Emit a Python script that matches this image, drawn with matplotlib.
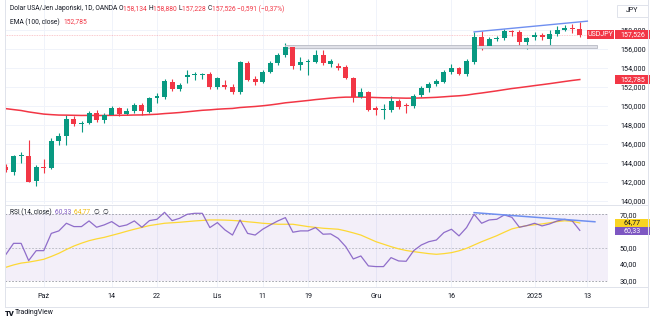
import matplotlib
matplotlib.use('Agg')
import matplotlib.pyplot as plt
import matplotlib.transforms as mtransforms
from matplotlib.patches import Rectangle
from matplotlib.lines import Line2D
import numpy as np
import pandas as pd

plt.rcParams['font.family'] = ['Roboto', 'DejaVu Sans']

W, H = 653, 322
GREEN = '#089981'
RED = '#f23645'
PURPLE = '#7e57c2'
YELLOW = '#fdd835'
TEXT = '#131722'
GRID = '#f0f3fa'
FRAME = '#e0e3eb'
BLUE = '#6f8ff0'

# trading days (OANDA daily, no bar on Christmas / New Year)
holidays = ['2024-12-25', '2025-01-01']
dates = pd.bdate_range('2024-09-24', '2025-01-13')
dates = dates[~dates.isin(pd.to_datetime(holidays))]

opens = [143.55, 143.10, 144.70, 144.75, 142.15, 143.60, 143.50, 146.30, 146.80, 148.65,
         148.15, 148.20, 149.25, 148.50, 149.05, 149.75, 149.20, 149.50, 150.10, 149.40,
         150.80, 150.95, 152.55, 151.80, 153.10, 153.30, 153.30, 153.35, 152.00, 152.25,
         152.00, 151.50, 154.55, 152.85, 152.55, 153.60, 154.55, 155.40, 156.25, 154.30,
         154.60, 154.60, 155.40, 154.45, 154.20, 154.10, 152.95, 150.90, 151.45, 149.75,
         149.55, 149.60, 150.55, 150.05, 149.95, 151.15, 151.90, 152.35, 152.55, 153.60,
         154.00, 153.35, 154.60, 157.30, 156.30, 157.05, 157.15, 157.90, 157.75, 156.75,
         157.25, 157.50, 157.05, 157.55, 158.00, 158.25, 158.134]
highs = [143.90, 144.85, 145.20, 146.40, 143.75, 144.40, 146.60, 147.20, 149.00, 148.95,
         148.40, 149.50, 149.55, 149.30, 149.95, 149.90, 149.80, 150.30, 150.30, 150.90,
         151.40, 152.85, 152.80, 152.40, 153.80, 153.60, 153.50, 153.60, 153.10, 152.70,
         152.30, 154.70, 154.70, 153.20, 153.80, 154.75, 155.60, 156.60, 156.40, 155.20,
         155.00, 155.85, 155.90, 154.95, 154.50, 154.35, 153.10, 151.90, 151.60, 149.95,
         150.20, 151.05, 150.70, 150.30, 151.30, 152.10, 152.50, 152.85, 153.80, 154.40,
         154.15, 154.90, 157.80, 157.85, 157.25, 157.35, 158.10, 158.05, 158.00, 157.30,
         157.75, 157.65, 158.00, 158.40, 158.55, 158.60, 158.880]
lows = [143.00, 142.70, 144.00, 141.95, 141.60, 142.95, 143.40, 145.90, 145.85, 147.90,
        147.30, 148.10, 148.30, 148.20, 149.00, 148.90, 149.00, 149.30, 149.10, 149.30,
        150.30, 150.70, 151.60, 151.60, 152.45, 152.75, 152.80, 151.80, 151.80, 151.80,
        151.30, 151.30, 152.60, 152.20, 152.40, 153.50, 154.30, 155.20, 153.85, 153.80,
        153.25, 154.50, 154.30, 154.10, 153.80, 152.80, 150.45, 150.80, 149.45, 149.05,
        148.65, 149.40, 149.70, 149.30, 149.80, 151.00, 151.50, 152.10, 152.40, 153.40,
        153.30, 153.20, 154.40, 155.90, 156.10, 156.80, 157.00, 157.40, 156.25, 155.95,
        156.95, 156.90, 156.20, 157.40, 157.90, 157.70, 157.228]
closes = [143.25, 144.70, 144.80, 142.05, 143.55, 143.50, 146.30, 146.80, 148.65, 148.15,
          148.25, 149.30, 148.50, 149.10, 149.75, 149.20, 149.50, 150.10, 149.50, 150.80,
          151.00, 152.65, 151.80, 152.25, 153.25, 153.35, 153.40, 151.95, 152.95, 152.00,
          151.50, 154.60, 152.75, 152.55, 153.60, 154.55, 155.40, 156.25, 154.25, 154.65,
          154.65, 155.40, 154.55, 154.70, 154.00, 152.95, 150.90, 151.45, 149.60, 149.60,
          149.65, 150.55, 149.90, 150.00, 151.10, 151.90, 152.35, 152.60, 153.60, 154.00,
          153.40, 154.70, 157.30, 156.30, 157.05, 157.15, 157.90, 157.80, 156.75, 157.15,
          157.50, 157.25, 157.55, 158.05, 158.25, 158.117, 157.526]
ema_start = 149.72  # EMA(100) value at the first visible bar

rsi = [45.9, 52.5, 52.5, 42.1, 48.1, 48.1, 58.5, 60.0, 64.6, 62.6,
       62.6, 66.0, 62.2, 63.6, 65.6, 62.6, 63.6, 66.0, 62.2, 66.2,
       67.0, 71.2, 66.2, 67.6, 70.0, 70.6, 70.6, 62.0, 65.0, 60.6,
       57.5, 66.6, 58.5, 57.5, 61.0, 63.6, 66.0, 68.0, 59.2, 60.0,
       60.0, 62.0, 58.0, 58.2, 55.5, 50.5, 43.1, 44.9, 38.9, 38.5,
       38.5, 43.9, 41.9, 41.7, 48.1, 51.5, 53.5, 54.5, 59.0, 61.0,
       57.0, 62.0, 70.0, 64.6, 66.6, 67.0, 69.6, 68.2, 62.2, 63.2,
       64.6, 63.0, 64.2, 66.0, 67.0, 66.0, 60.33]
rsi_ma = [38.1, 39.5, 40.6, 41.2, 42.0, 42.9, 44.6, 46.5, 48.8, 50.9,
          52.6, 54.1, 55.2, 56.1, 57.3, 58.5, 59.8, 61.0, 62.1, 63.2,
          63.9, 64.6, 64.9, 65.2, 65.6, 66.0, 66.3, 66.6, 66.6, 66.5,
          66.3, 66.0, 65.5, 65.1, 64.6, 64.3, 64.0, 64.0, 64.0, 63.3,
          62.6, 62.1, 61.6, 61.3, 61.0, 60.0, 58.8, 57.5, 55.5, 53.5,
          52.0, 50.5, 49.2, 48.2, 47.5, 46.9, 46.3, 45.9, 46.3, 46.9,
          48.0, 49.5, 51.5, 53.5, 55.3, 57.1, 59.2, 61.2, 62.3, 63.2,
          63.7, 64.2, 64.9, 65.6, 66.1, 65.8, 64.77]

tick_dates = ['2024-10-01', '2024-10-14', '2024-10-22', '2024-11-01', '2024-11-11',
              '2024-11-19', '2024-12-02', '2024-12-16', '2025-01-02', '2025-01-13']
tick_labels = ['Paź', '14', '22', 'Lis', '11', '19', 'Gru', '16', '2025', '13']
price_ticks = [140, 142, 144, 146, 148, 150, 152, 154, 156, 158]
rsi_ticks = [30, 40, 50, 70]

# drawings
trend_price = ([62, 77], [157.80, 158.93])
trend_rsi = ([62, 78], [71.0, 65.5])
level_price = 156.26
level_range = (37, 78.3)

ema = [ema_start]
for v in closes[1:]:
    ema.append(ema[-1] + (v - ema[-1]) * 2 / 101)

x = np.arange(len(closes))
o, h, l, c = map(np.array, (opens, highs, lows, closes))
tick_pos = [dates.get_loc(pd.Timestamp(d)) for d in tick_dates]

fig = plt.figure(figsize=(W / 100, H / 100), dpi=100)
fig.patch.set_facecolor('white')

PX_L, PX_R = 5, 608
def fx(px):
    return (px - PX_L) / (PX_R - PX_L)

ax_p = fig.add_axes([PX_L / W, (H - 204) / H, (PX_R - PX_L) / W, 204 / H])
ax_r = fig.add_axes([PX_L / W, (H - 287) / H, (PX_R - PX_L) / W, (287 - 205) / H])

xlim = ((PX_L - 6) / 7.55, (PX_R - 6) / 7.55)
for ax in (ax_p, ax_r):
    ax.set_xlim(*xlim)
    for s in ax.spines.values():
        s.set_visible(False)
    ax.tick_params(length=0)
    for t in tick_pos:
        ax.axvline(t, color=GRID, lw=0.7, zorder=0)

ax_p.set_ylim(158 - 174 / 9.5, 158 + 30 / 9.5)
ax_r.set_ylim(30 - 6.3 / 1.66, 70 + 9.3 / 1.66)

# price panel
for t in price_ticks:
    ax_p.axhline(t, color=GRID, lw=0.7, zorder=0)
col = np.where(c >= o, GREEN, RED)
ax_p.vlines(x, l, h, colors=col, lw=0.8, zorder=2)
ax_p.bar(x, np.maximum(np.abs(c - o), 0.1), bottom=np.minimum(o, c),
         width=0.66, color=col, lw=0, zorder=3)
ax_p.plot(x, ema, color=RED, lw=1.1, zorder=2)
ax_p.axhline(closes[-1], color=RED, lw=0.6, alpha=0.35, ls=(0, (1, 1)), zorder=1)
ax_p.add_patch(Rectangle((level_range[0], level_price - 0.12), level_range[1] - level_range[0], 0.24,
                         fc='#e0e1e8', ec='#b8bac4', lw=0.6, zorder=2))
ax_p.plot(*trend_price, color=BLUE, lw=1.0, zorder=4)

ax_p.yaxis.tick_right()
ax_p.set_yticks(price_ticks)
ax_p.set_yticklabels([f'{v:.3f}'.replace('.', ',') for v in price_ticks],
                     fontsize=5.2, color=TEXT)
ax_p.tick_params(axis='y', pad=8.6)
ax_p.set_xticks([])

# RSI panel
ax_r.axhspan(30, 70, color=PURPLE, alpha=0.09, lw=0, zorder=0)
ax_r.axhline(70, color='#9598a1', lw=0.6, ls=(0, (2, 2)), zorder=1)
ax_r.axhline(30, color='#9598a1', lw=0.6, ls=(0, (2, 2)), zorder=1)
ax_r.axhline(50, color='#b2b5be', lw=0.6, ls=(0, (2, 2)), zorder=1)
ax_r.plot(x, rsi_ma, color=YELLOW, lw=0.9, zorder=2)
ax_r.plot(x, rsi, color=PURPLE, lw=0.9, alpha=0.85, zorder=3)
ax_r.plot(*trend_rsi, color=BLUE, lw=1.1, zorder=4)

ax_r.yaxis.tick_right()
ax_r.set_yticks(rsi_ticks)
ax_r.set_yticklabels([f'{v:.2f}'.replace('.', ',') for v in rsi_ticks], fontsize=5.2, color=TEXT)
ax_r.tick_params(axis='y', pad=8.6)
ax_r.set_xticks(tick_pos)
ax_r.set_xticklabels(tick_labels, fontsize=5.2, color=TEXT)
ax_r.tick_params(axis='x', pad=4.3)


def value_box(ax, px0, px1, y, hgt, text, fc, tc):
    tr = mtransforms.blended_transform_factory(ax.transAxes, ax.transData)
    ax.add_patch(Rectangle((fx(px0), y - hgt / 2), fx(px1) - fx(px0), hgt, transform=tr,
                           fc=fc, ec='none', clip_on=False, zorder=6))
    ax.text((fx(px0) + fx(px1)) / 2, y, text, transform=tr, ha='center', va='center',
            color=tc, fontsize=5.0, clip_on=False, zorder=7)


last = closes[-1]
value_box(ax_p, 587, 614.5, last, 0.95, 'USDJPY', RED, 'white')
value_box(ax_p, 615, 650, last, 0.95, f'{last:.3f}'.replace('.', ','), RED, 'white')
value_box(ax_p, 615, 650, ema[-1], 0.95, f'{ema[-1]:.3f}'.replace('.', ','), RED, 'white')
mid = (rsi[-1] + rsi_ma[-1]) / 2
value_box(ax_r, 615, 650, mid + 2.45, 4.7, f'{rsi_ma[-1]:.2f}'.replace('.', ','), '#f9d423', TEXT)
value_box(ax_r, 615, 650, mid - 2.45, 4.7, f'{rsi[-1]:.2f}'.replace('.', ','), PURPLE, 'white')

# frame lines
def fline(x0, y0, x1, y1):
    fig.add_artist(Line2D([x0 / W, x1 / W], [1 - y0 / H, 1 - y1 / H], color=FRAME, lw=0.7,
                          transform=fig.transFigure))

fline(PX_L, 204.5, 648, 204.5)
fline(PX_L, 287, 648, 287)
fline(PX_L, 307, 648, 307)
fline(PX_L, 0, PX_L, 307)
fline(648, 0, 648, 307)

# JPY box
fig.add_artist(Rectangle((617 / W, 1 - 17 / H), 31 / W, 12 / H, transform=fig.transFigure,
                         fc='white', ec=FRAME, lw=0.7))
fig.text(632.5 / W, 1 - 11 / H, 'JPY', ha='center', va='center', fontsize=5, color=TEXT)

# legends
renderer = fig.canvas.get_renderer()
def pieces(px, py, items, size=4.8):
    for s, colr in items:
        t = fig.text(px / W, 1 - py / H, s, color=colr, fontsize=size, ha='left', va='center')
        px += t.get_window_extent(renderer=renderer).width


def fmt(v, n=3):
    return f'{v:.{n}f}'.replace('.', ',')


chg = closes[-1] - closes[-2]
pieces(10, 9, [('Dolar USA/Jen Japoński, 1D, OANDA ', TEXT),
               ('O', TEXT), (fmt(opens[-1]) + ' ', RED),
               ('H', TEXT), (fmt(highs[-1]) + ' ', RED),
               ('L', TEXT), (fmt(lows[-1]) + ' ', RED),
               ('C', TEXT), (fmt(closes[-1]) + ' ', RED),
               ('\u2212' + fmt(abs(chg)) + ' (\u2212' + fmt(abs(chg) / closes[-2] * 100, 2) + '%)', RED)])
pieces(10, 22, [('EMA (100, close)  ', TEXT), (fmt(ema[-1]), RED)])
pieces(10, 212, [('RSI (14, close)  ', TEXT), (fmt(rsi[-1], 2) + '  ', PURPLE),
                 (fmt(rsi_ma[-1], 2) + '  ', '#f0b90b'), ('\u2205  \u2205', TEXT)])

fig.text(5 / W, 1 - 313 / H, 'TV', fontsize=5.5, weight='heavy', color=TEXT, va='center')
fig.text(15 / W, 1 - 313 / H, 'TradingView', fontsize=5, color=TEXT, va='center')

fig.savefig('out.png', dpi=100, facecolor='white')
